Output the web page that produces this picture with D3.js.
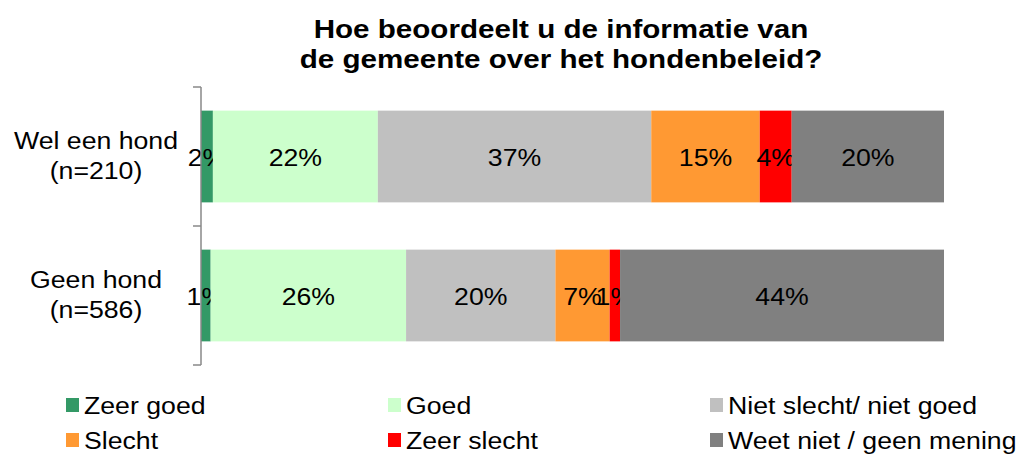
<!DOCTYPE html>
<html>
<head>
<meta charset="utf-8">
<script src="https://d3js.org/d3.v7.min.js"></script>
<style>
  body { margin: 0; background: #fff; }
  text { font-family: "Liberation Sans", Arial, sans-serif; }
</style>
</head>
<body>
<div class="chart"></div>
<script>
// data
let groups = ["Wel een hond\n(n=210)", "Geen hond\n(n=586)"];
let answers = ["Zeer goed", "Goed", "Niet slecht/ niet goed", "Slecht", "Zeer slecht", "Weet niet / geen mening"];
let welEenHond = [1.6, 22.2, 36.8, 14.6, 4.3, 20.5];
let geenHond = [1.3, 26.3, 20.1, 7.3, 1.4, 43.6];
let welLabels = ["2%", "22%", "37%", "15%", "4%", "20%"];
let geenLabels = ["1%", "26%", "20%", "7%", "1%", "44%"];
let colors = ["#339966", "#ccffcc", "#c0c0c0", "#ff9933", "#ff0000", "#808080"];
let titleLines = ["Hoe beoordeelt u de informatie van", "de gemeente over het hondenbeleid?"];

let width = 1019;
let height = 456;
let stretch = 1.16; // the original text is a bit wider than Arial

let svg = d3.select(".chart")
    .append("svg")
    .attr("width", width)
    .attr("height", height);

function place(x, y) {
    return "translate(" + x + "," + y + ") scale(" + stretch + ",1)";
}

// rows for the stack
let rows = groups.map(function (g, i) {
    let vals = i == 0 ? welEenHond : geenHond;
    let labs = i == 0 ? welLabels : geenLabels;
    let row = { group: g, labels: labs };
    answers.forEach(function (a, j) { row[a] = vals[j]; });
    return row;
});

let stack = d3.stack().keys(answers);
let series = stack(rows);

let x = d3.scaleLinear()
    .domain([0, 100])
    .range([201, 944]);

let y = d3.scaleBand()
    .domain(groups)
    .range([87, 365])
    .paddingInner(0.34)
    .paddingOuter(0.17);

let color = d3.scaleOrdinal()
    .domain(answers)
    .range(colors);

// title
svg.append("g")
    .selectAll("text")
    .data(titleLines)
    .enter()
    .append("text")
    .attr("transform", function (d, i) { return place(561, 38 + i * 30); })
    .style("text-anchor", "middle")
    .style("font-weight", "bold")
    .style("font-size", "25.5px")
    .text(function (d) { return d; });

// bars
let layers = svg.append("g")
    .selectAll("g")
    .data(series)
    .enter()
    .append("g")
    .style("fill", function (d) { return color(d.key); });

layers.selectAll("rect")
    .data(function (d) { return d; })
    .enter()
    .append("rect")
    .attr("x", function (d) { return x(d[0]); })
    .attr("width", function (d) { return x(d[1]) - x(d[0]); })
    .attr("y", function (d) { return y(d.data.group); })
    .attr("height", y.bandwidth());

// value labels
layers.each(function (s, j) {
    d3.select(this).selectAll("text")
        .data(s)
        .enter()
        .append("text")
        .attr("transform", function (d) {
            return place((x(d[0]) + x(d[1])) / 2, y(d.data.group) + y.bandwidth() / 2 + 9);
        })
        .style("text-anchor", "middle")
        .style("font-size", "23px")
        .style("fill", "#000")
        .text(function (d) { return d.data.labels[j]; });
});

// category axis
let yAxis = d3.axisLeft(y).tickSize(0).tickFormat("");
let axisG = svg.append("g")
    .attr("transform", "translate(201,0)")
    .call(yAxis);
axisG.select(".domain").remove();

axisG.append("line")
    .attr("x1", 0).attr("x2", 0)
    .attr("y1", 87).attr("y2", 365)
    .style("stroke", "#888")
    .style("stroke-width", 1.5);

let bounds = [87, (y(groups[0]) + y.bandwidth() + y(groups[1])) / 2, 365];
axisG.selectAll(".sep")
    .data(bounds)
    .enter()
    .append("line")
    .attr("class", "sep")
    .attr("x1", -8).attr("x2", 0)
    .attr("y1", function (d) { return d; })
    .attr("y2", function (d) { return d; })
    .style("stroke", "#888")
    .style("stroke-width", 1.5);

let catLabels = svg.append("g")
    .selectAll("text")
    .data(groups)
    .enter()
    .append("text")
    .attr("transform", function (d) { return place(96, y(d) + y.bandwidth() / 2 - 8); })
    .style("text-anchor", "middle")
    .style("font-size", "23px");

catLabels.selectAll("tspan")
    .data(function (d) { return d.split("\n"); })
    .enter()
    .append("tspan")
    .attr("x", 0)
    .attr("dy", function (d, i) { return i == 0 ? 0 : 31; })
    .text(function (d) { return d; });

// legend
let legend = svg.append("g")
    .selectAll("g")
    .data(answers)
    .enter()
    .append("g")
    .attr("transform", function (d, i) {
        return "translate(" + (66 + (i % 3) * 322) + "," + (405 + Math.floor(i / 3) * 35) + ")";
    });

legend.append("rect")
    .attr("x", 0)
    .attr("y", -7)
    .attr("width", 13)
    .attr("height", 14)
    .style("fill", function (d) { return color(d); });

legend.append("text")
    .attr("transform", place(18, 9))
    .style("font-size", "23px")
    .text(function (d) { return d; });
</script>
</body>
</html>
